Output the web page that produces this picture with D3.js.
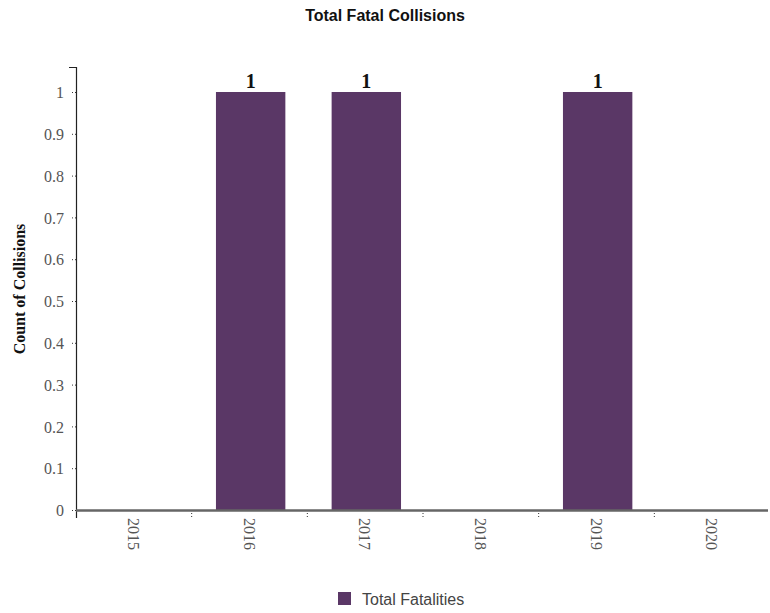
<!DOCTYPE html>
<html><head><meta charset="utf-8">
<script src="https://cdn.jsdelivr.net/npm/d3@7"></script>
<style>body{margin:0;background:#fff}</style>
</head><body>
<script>
const categories = ["2015","2016","2017","2018","2019","2020"];
const values = [0, 1, 1, 0, 1, 0];
const yTicks = [0,0.1,0.2,0.3,0.4,0.5,0.6,0.7,0.8,0.9,1];
const seriesName = "Total Fatalities";
const chartTitle = "Total Fatal Collisions";
const yTitle = "Count of Collisions";

const W = 770, H = 613;
const m = {left: 76, right: 0, top: 67, bottom: 103};
const svg = d3.select("body").append("svg").attr("width", W).attr("height", H);

const x = d3.scaleBand().domain(categories).range([m.left, W - m.right]).padding(0);
const y = d3.scaleLinear().domain([0, 1]).range([510, 92]);

svg.append("text").attr("x", 385).attr("y", 21).attr("text-anchor", "middle")
  .attr("font-family", "Liberation Sans, Arial, sans-serif").attr("font-weight", "bold")
  .attr("font-size", 16).attr("fill", "#111").text(chartTitle);

// bars
const bw = x.bandwidth();
svg.selectAll("rect.bar").data(categories.map((c,i)=>({c, v: values[i]}))).enter()
  .append("rect").attr("class","bar")
  .attr("x", d => x(d.c) + bw*0.21).attr("width", bw*0.6)
  .attr("y", d => y(d.v)).attr("height", d => y(0) - y(d.v))
  .attr("fill", "#5a3766");

svg.selectAll("text.lbl").data(categories.map((c,i)=>({c, v: values[i]})).filter(d=>d.v>0)).enter()
  .append("text").attr("class","lbl")
  .attr("x", d => x(d.c) + bw*0.51).attr("y", d => y(d.v) - 4)
  .attr("text-anchor","middle").attr("font-family","Liberation Serif, Times New Roman, serif")
  .attr("font-weight","bold").attr("font-size",20).attr("fill","#111").text(d => d.v);

// y axis
const ya = svg.append("g").attr("transform", `translate(${m.left},0)`)
  .call(d3.axisLeft(y).tickValues(yTicks).tickFormat(d3.format("")).tickSize(6).tickSizeOuter(0));
ya.select(".domain").remove();
ya.selectAll(".tick line").attr("stroke","#333").attr("stroke-dasharray","1,2");
ya.selectAll(".tick text").attr("font-family","Liberation Serif, Times New Roman, serif")
  .attr("font-size",16).attr("fill","#555").attr("x",-12).attr("dy","0.35em");
svg.append("path").attr("d", `M69,67.5H76.5V518`).attr("fill","none").attr("stroke","#222").attr("stroke-width",1.2);

// x axis
svg.append("line").attr("x1", m.left).attr("x2", W - 2).attr("y1", 510.5).attr("y2", 510.5)
  .attr("stroke","#666").attr("stroke-width",2.5);
const bounds = categories.slice(1).map(c => x(c));
svg.selectAll("line.xt").data(bounds).enter().append("line").attr("class","xt")
  .attr("x1", d=>d).attr("x2", d=>d).attr("y1", 513).attr("y2", 519)
  .attr("stroke","#333").attr("stroke-dasharray","1,2");
svg.selectAll("text.xl").data(categories).enter().append("text").attr("class","xl")
  .attr("transform", d => `translate(${x(d)+bw/2 - 6},518) rotate(90)`)
  .attr("font-family","Liberation Serif, Times New Roman, serif")
  .attr("font-size",16).attr("fill","#555").text(d => d);

// y title
svg.append("text").attr("transform","translate(25,289) rotate(-90)").attr("text-anchor","middle")
  .attr("font-family","Liberation Serif, Times New Roman, serif").attr("font-weight","bold")
  .attr("font-size",16).attr("fill","#111").text(yTitle);

// legend
svg.append("rect").attr("x",338).attr("y",592).attr("width",13).attr("height",13).attr("fill","#5a3766");
svg.append("text").attr("x",362).attr("y",605).attr("font-family","Liberation Sans, Arial, sans-serif")
  .attr("font-size",16).attr("fill","#444").text(seriesName);
</script>
</body></html>
